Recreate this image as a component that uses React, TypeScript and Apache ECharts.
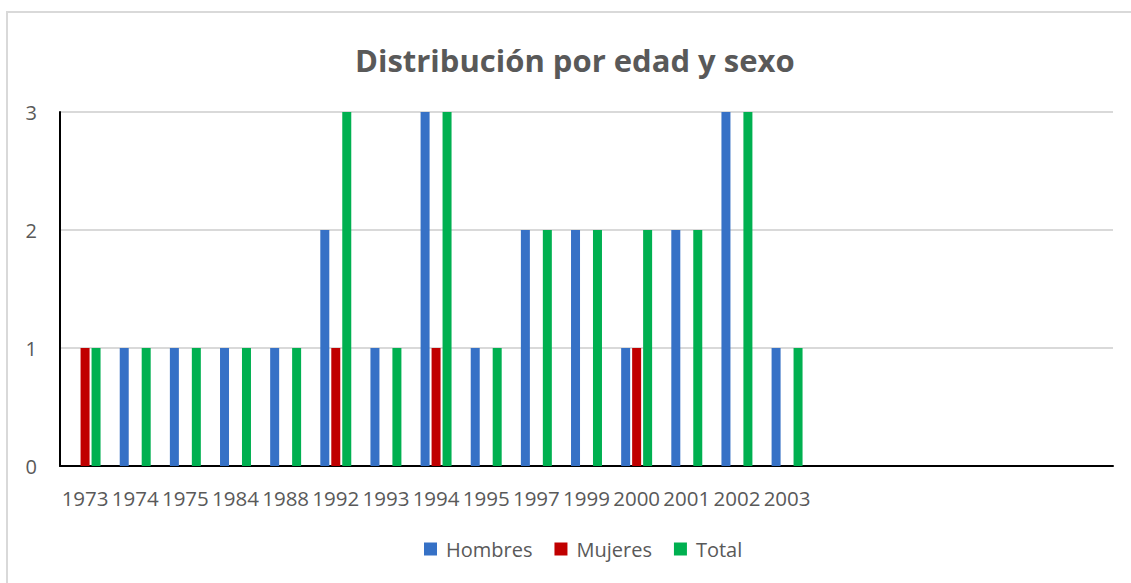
import React, { useEffect, useRef } from "react";
import * as echarts from "echarts";

const years = ["1973", "1974", "1975", "1984", "1988", "1992", "1993", "1994", "1995", "1997", "1999", "2000", "2001", "2002", "2003", "", "", "", "", "", ""];
const hombres = [0, 1, 1, 1, 1, 2, 1, 3, 1, 2, 2, 1, 2, 3, 1, null, null, null, null, null, null];
const mujeres = [1, 0, 0, 0, 0, 1, 0, 1, 0, 0, 0, 1, 0, 0, 0, null, null, null, null, null, null];
const total = [1, 1, 1, 1, 1, 3, 1, 3, 1, 2, 2, 2, 2, 3, 1, null, null, null, null, null, null];
const seriesNames = ["Hombres", "Mujeres", "Total"];
const colors = ["#3671c6", "#c00000", "#00b050"];

export default function App() {
  const ref = useRef<HTMLDivElement>(null);
  useEffect(() => {
    const chart = echarts.init(ref.current!, undefined, { renderer: "svg" });
    const font = "'Open Sans', sans-serif";
    const datas = [hombres, mujeres, total];
    chart.setOption({
      animation: false,
      textStyle: { fontFamily: font },
      graphic: [
        {
          type: "rect",
          shape: { x: 7, y: 12, width: 1300, height: 700 },
          style: { fill: "none", stroke: "#d9d9d9", lineWidth: 2 },
          silent: true,
        },
      ],
      title: {
        text: "Distribución por edad y sexo",
        left: 350,
        top: 39,
        textStyle: { fontFamily: font, fontSize: 31, fontWeight: "bold", color: "#595959" },
      },
      legend: {
        data: seriesNames,
        bottom: 19,
        left: 419,
        itemWidth: 13,
        itemHeight: 13,
        itemGap: 22,
        icon: "rect",
        textStyle: { fontFamily: font, fontSize: 20, color: "#595959", padding: [0, 0, 0, 4] },
      },
      grid: { left: 60, right: 18, top: 112, bottom: 117 },
      xAxis: {
        type: "category",
        data: years,
        axisLine: { lineStyle: { color: "#000", width: 2 } },
        axisTick: { show: false },
        axisLabel: { interval: 0, fontFamily: font, fontSize: 20.5, color: "#595959", margin: 21 },
      },
      yAxis: {
        type: "value",
        min: 0,
        max: 3,
        interval: 1,
        axisLine: { show: true, lineStyle: { color: "#000", width: 2 } },
        axisTick: { show: false },
        splitLine: { lineStyle: { color: "#d9d9d9", width: 2 } },
        axisLabel: { fontFamily: font, fontSize: 20, color: "#595959", margin: 23 },
      },
      series: seriesNames.map((name, i) => ({
        name,
        type: "bar",
        data: datas[i],
        barWidth: 9,
        barGap: "22%",
        itemStyle: { color: colors[i] },
      })),
    });
    return () => chart.dispose();
  }, []);
  return <div ref={ref} style={{ position: "absolute", left: 0, top: 0, width: 1131, height: 583 }} />;
}
